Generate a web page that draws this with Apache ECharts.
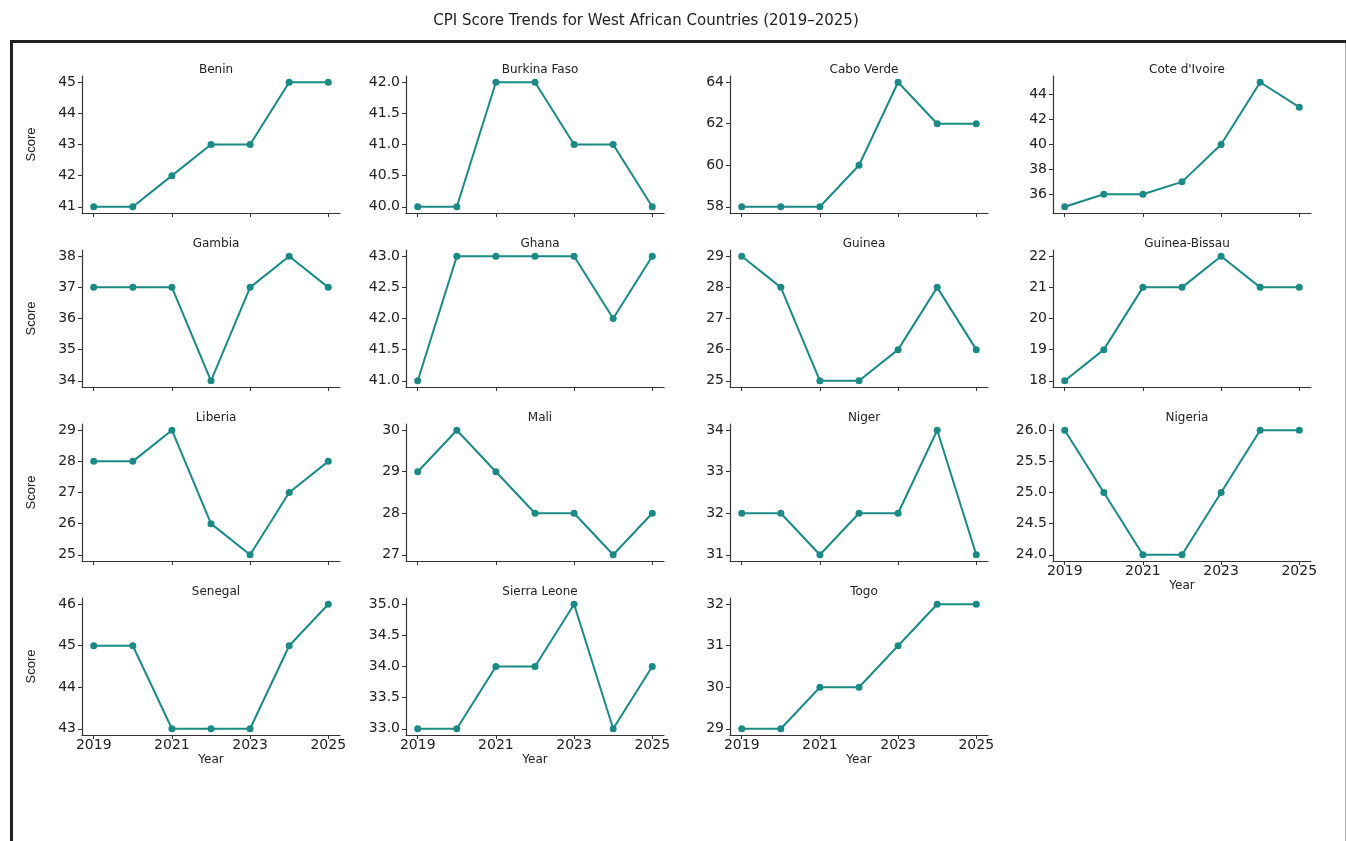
<!DOCTYPE html>
<html>
<head>
<meta charset="utf-8">
<script src="https://cdn.jsdelivr.net/npm/echarts@6/dist/echarts.min.js"></script>
<style>
  html, body { margin: 0; padding: 0; background: #fff; }
  #main { width: 1346px; height: 841px; }
</style>
</head>
<body>
<div id="main"></div>
<script>
// data
var years = [2019, 2020, 2021, 2022, 2023, 2024, 2025];
var yearTicks = [2019, 2021, 2023, 2025];
var countries = ['Benin', 'Burkina Faso', 'Cabo Verde', "Cote d'Ivoire",
    'Gambia', 'Ghana', 'Guinea', 'Guinea-Bissau',
    'Liberia', 'Mali', 'Niger', 'Nigeria',
    'Senegal', 'Sierra Leone', 'Togo'];
var benin = [41, 41, 42, 43, 43, 45, 45];
var burkinaFaso = [40, 40, 42, 42, 41, 41, 40];
var caboVerde = [58, 58, 58, 60, 64, 62, 62];
var coteDivoire = [35, 36, 36, 37, 40, 45, 43];
var gambia = [37, 37, 37, 34, 37, 38, 37];
var ghana = [41, 43, 43, 43, 43, 42, 43];
var guinea = [29, 28, 25, 25, 26, 28, 26];
var guineaBissau = [18, 19, 21, 21, 22, 21, 21];
var liberia = [28, 28, 29, 26, 25, 27, 28];
var mali = [29, 30, 29, 28, 28, 27, 28];
var niger = [32, 32, 31, 32, 32, 34, 31];
var nigeria = [26, 25, 24, 24, 25, 26, 26];
var senegal = [45, 45, 43, 43, 43, 45, 46];
var sierraLeone = [33, 33, 34, 34, 35, 33, 34];
var togo = [29, 29, 30, 30, 31, 32, 32];
var scores = [benin, burkinaFaso, caboVerde, coteDivoire, gambia, ghana, guinea,
    guineaBissau, liberia, mali, niger, nigeria, senegal, sierraLeone, togo];
// y tick labels per panel
var yTicks = [
    ['41', '42', '43', '44', '45'],
    ['40.0', '40.5', '41.0', '41.5', '42.0'],
    ['58', '60', '62', '64'],
    ['36', '38', '40', '42', '44'],
    ['34', '35', '36', '37', '38'],
    ['41.0', '41.5', '42.0', '42.5', '43.0'],
    ['25', '26', '27', '28', '29'],
    ['18', '19', '20', '21', '22'],
    ['25', '26', '27', '28', '29'],
    ['27', '28', '29', '30'],
    ['31', '32', '33', '34'],
    ['24.0', '24.5', '25.0', '25.5', '26.0'],
    ['43', '44', '45', '46'],
    ['33.0', '33.5', '34.0', '34.5', '35.0'],
    ['29', '30', '31', '32']
];

var colLeft = [82, 406, 730, 1053];
var rowTop = [76, 250, 424, 598];
var plotW = 258, plotH = 137;
var teal = '#1b8a85';
var font = 'DejaVu Sans';

var grids = [], xAxes = [], yAxes = [], series = [], titles = [];

countries.forEach(function (name, i) {
    var r = Math.floor(i / 4), c = i % 4;
    var data = scores[i];
    var lo = Math.min.apply(null, data), hi = Math.max.apply(null, data);
    var pad = (hi - lo) * 0.05;
    var isBottom = (i + 4 >= countries.length);
    var ticks = yTicks[i].map(Number);

    grids.push({ left: colLeft[c], top: rowTop[r], width: plotW, height: plotH });
    titles.push({
        text: name, left: colLeft[c] + plotW / 2, top: rowTop[r] - 17, textAlign: 'center',
        textStyle: { fontFamily: font, fontSize: 12, fontWeight: 'normal', color: '#222' }
    });
    xAxes.push({
        type: 'value', gridIndex: i, min: 2019 - 0.3, max: 2025 + 0.3,
        name: isBottom ? 'Year' : '', nameLocation: 'middle', nameGap: 19,
        nameTextStyle: { fontFamily: font, fontSize: 12, color: '#222' },
        splitLine: { show: false },
        axisLine: { lineStyle: { color: '#333', width: 1.2 } },
        axisTick: { show: true, length: 4, customValues: yearTicks, lineStyle: { color: '#333' } },
        axisLabel: {
            show: isBottom, customValues: yearTicks, margin: 3,
            fontFamily: font, fontSize: 14, color: '#222',
            formatter: function (v) { return String(v); }
        }
    });
    yAxes.push({
        type: 'value', gridIndex: i, min: lo - pad, max: hi + pad,
        name: c === 0 ? 'Score' : '', nameLocation: 'middle', nameGap: 44, nameRotate: 90,
        nameTextStyle: { fontFamily: 'Liberation Sans Narrow, Liberation Sans', fontSize: 13, color: '#222' },
        splitLine: { show: false },
        axisLine: { show: true, lineStyle: { color: '#333', width: 1.2 } },
        axisTick: { show: true, length: 4, customValues: ticks, lineStyle: { color: '#333' } },
        axisLabel: {
            customValues: ticks, margin: 6,
            fontFamily: font, fontSize: 14, color: '#222',
            formatter: (function (labels) {
                return function (v) {
                    for (var k = 0; k < labels.length; k++) {
                        if (Math.abs(Number(labels[k]) - v) < 1e-6) return labels[k];
                    }
                    return '';
                };
            })(yTicks[i])
        }
    });
    series.push({
        type: 'line', xAxisIndex: i, yAxisIndex: i,
        data: years.map(function (y, k) { return [y, data[k]]; }),
        symbol: 'circle', symbolSize: 7,
        lineStyle: { color: teal, width: 2 },
        itemStyle: { color: teal },
        animation: false
    });
});

titles.unshift({
    text: 'CPI Score Trends for West African Countries (2019–2025)',
    left: 641, top: 9, textAlign: 'center',
    textStyle: { fontFamily: font, fontSize: 15, fontWeight: 'normal', color: '#222' }
});

var chart = echarts.init(document.getElementById('main'), null, { renderer: 'canvas' });
chart.setOption({
    backgroundColor: '#fff',
    animation: false,
    title: titles,
    grid: grids,
    xAxis: xAxes,
    yAxis: yAxes,
    series: series,
    graphic: [
        { type: 'line', shape: { x1: 11.5, y1: 41.5, x2: 1346, y2: 41.5 }, style: { stroke: '#222', lineWidth: 3 } },
        { type: 'line', shape: { x1: 11.5, y1: 40, x2: 11.5, y2: 841 }, style: { stroke: '#222', lineWidth: 3 } },
        { type: 'line', shape: { x1: 1345.5, y1: 43, x2: 1345.5, y2: 841 }, style: { stroke: '#aaa', lineWidth: 1 } }
    ]
});
</script>
</body>
</html>
